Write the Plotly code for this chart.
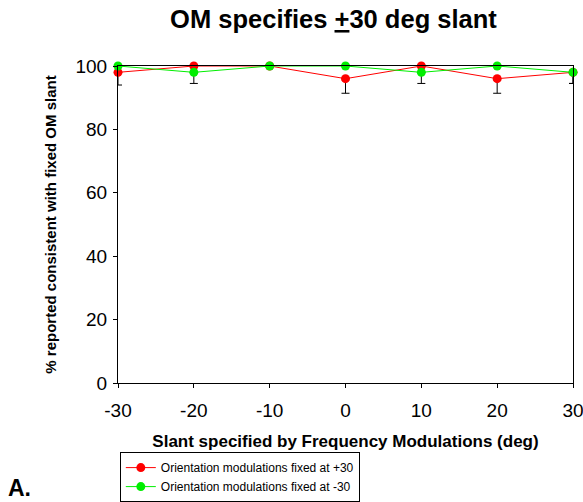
import plotly.graph_objects as go

slant = [-30, -20, -10, 0, 10, 20, 30]
fixed_pos30 = [98, 100, 100, 96, 100, 96, 98]
fixed_pos30_err = [4, 0, 0, 4.6, 0, 4.6, 3.5]
fixed_neg30 = [100, 98, 100, 100, 98, 100, 98]
fixed_neg30_err = [0, 3.5, 0, 0, 3.5, 0, 3.5]
names = ["Orientation modulations fixed at +30", "Orientation modulations fixed at -30"]
x_ticks = [-30, -20, -10, 0, 10, 20, 30]
x_ticktext = ["-30", "-20", "-10", "0", "10", "20", "30"]
y_ticks = [0, 20, 40, 60, 80, 100]

FONT = "Liberation Sans, Arial, sans-serif"

fig = go.Figure()
for y, err, name, col in [(fixed_pos30, fixed_pos30_err, names[0], "#ff0000"),
                          (fixed_neg30, fixed_neg30_err, names[1], "#00ee00")]:
    fig.add_trace(go.Scatter(
        x=slant, y=y, name=name, mode="lines+markers",
        line=dict(color=col, width=1),
        marker=dict(color=col, size=9),
        error_y=dict(type="data", symmetric=False, array=[0] * len(err), arrayminus=err,
                     color="black", thickness=1, width=4),
        cliponaxis=False,
    ))

fig.update_layout(
    width=583, height=502,
    margin=dict(l=118, r=10, t=66, b=119, autoexpand=False),
    plot_bgcolor="white", paper_bgcolor="white",
    font=dict(family=FONT, color="black"),
    title=dict(text="<b>OM specifies <span style='text-decoration:underline'>+</span>30 deg slant</b>",
               x=0.572, xanchor="center", y=0.962, yanchor="middle",
               font=dict(size=25.5, family=FONT)),
    xaxis=dict(range=[-30, 30], tickvals=x_ticks, ticktext=x_ticktext, showline=True,
               linecolor="black", linewidth=1, mirror=True, ticks="outside", ticklen=4,
               tickcolor="black", showgrid=False, zeroline=False, tickfont=dict(size=19),
               ticklabeloverflow="allow", ticklabelstandoff=6, automargin=False,
               title=dict(text="<b>Slant specified by Frequency Modulations (deg)</b>",
                          font=dict(size=17), standoff=15)),
    yaxis=dict(range=[0, 100], tickvals=y_ticks, showline=True, linecolor="black", linewidth=1,
               mirror=True, ticks="outside", ticklen=4, tickcolor="black", showgrid=False,
               zeroline=False, tickfont=dict(size=19), ticklabelstandoff=2, automargin=False,
               title=dict(text="<b>% reported consistent with fixed OM slant</b>",
                          font=dict(size=15), standoff=15)),
    legend=dict(x=0.004, y=-0.218, xanchor="left", yanchor="top",
                bgcolor="white", bordercolor="black", borderwidth=1,
                font=dict(size=12, family=FONT), tracegroupgap=0),
    showlegend=True,
)

fig.add_annotation(text="<b>A.</b>", xref="paper", yref="paper", x=-0.247, y=-0.33,
                   xanchor="left", yanchor="middle", showarrow=False,
                   font=dict(size=23, family=FONT))

fig.write_html("out.html")
